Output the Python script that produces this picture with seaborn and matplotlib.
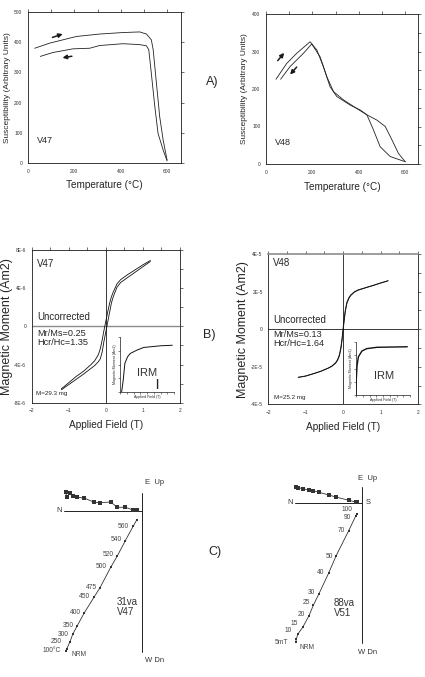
import numpy as np
import pandas as pd
import matplotlib
matplotlib.use('Agg')
import matplotlib.pyplot as plt
import seaborn as sns

# ---------------- data ----------------
# A) susceptibility vs temperature, V47
v47_heat_T = [29, 94, 209, 309, 410, 482, 511, 532, 540, 554, 568, 583, 597, 600]
v47_heat_k = [380, 397, 419, 427, 432, 434, 427, 408, 375, 264, 154, 76, 21, 10]
v47_cool_T = [53, 108, 194, 266, 309, 410, 482, 511, 521, 532, 547, 561, 583, 600]
v47_cool_k = [353, 366, 378, 380, 389, 395, 392, 388, 375, 297, 187, 98, 43, 7]
v47_arrow_up = [(94, 413), (161, 430)]
v47_arrow_down = [(201, 355), (137, 347)]

# A) susceptibility vs temperature, V48
v48_heat_T = [43, 89, 132, 190, 219, 247, 276, 305, 363, 406, 435, 463, 492, 535, 600]
v48_heat_k = [226, 268, 295, 326, 304, 260, 206, 180, 157, 144, 131, 91, 46, 20, 6]
v48_cool_T = [63, 104, 161, 197, 233, 262, 291, 334, 391, 435, 478, 514, 543, 571, 600]
v48_cool_k = [226, 260, 295, 320, 286, 233, 193, 171, 148, 131, 117, 100, 64, 28, 6]
v48_arrow_up = [(43, 270), (86, 302)]
v48_arrow_down = [(140, 264), (96, 233)]

# B) hysteresis loops (field in T)
field = [-1.2, -1.0, -0.8, -0.6, -0.4, -0.3, -0.2, -0.15, -0.1, -0.05, 0,
         0.05, 0.1, 0.15, 0.2, 0.3, 0.4, 0.6, 0.8, 1.0, 1.2]
v47_desc = [-6.55, -5.9, -5.25, -4.7, -4.0, -3.6, -2.95, -2.35, -1.45, -0.4, 0.55,
            1.5, 2.4, 3.1, 3.6, 4.45, 4.9, 5.45, 5.95, 6.45, 6.9]       # x1e-6 Am2
v47_asc = [-6.65, -6.1, -5.55, -5.0, -4.4, -4.1, -3.7, -3.4, -2.7, -1.55, -0.55,
           0.45, 1.45, 2.45, 3.1, 4.1, 4.6, 5.15, 5.7, 6.25, 6.8]
field48 = [-1.2, -1.0, -0.8, -0.6, -0.4, -0.3, -0.2, -0.15, -0.1, -0.06, -0.03, 0,
           0.03, 0.06, 0.1, 0.15, 0.2, 0.3, 0.4, 0.6, 0.8, 1.0, 1.2]
v48_desc = [-2.56, -2.49, -2.37, -2.24, -2.07, -1.96, -1.78, -1.62, -1.36, -0.95, -0.48, 0.06,
            0.62, 1.05, 1.44, 1.67, 1.82, 1.99, 2.09, 2.21, 2.33, 2.46, 2.58]   # x1e-5 Am2
v48_asc = [-2.57, -2.5, -2.38, -2.25, -2.08, -1.98, -1.81, -1.67, -1.43, -1.05, -0.62, -0.06,
           0.48, 0.95, 1.36, 1.62, 1.78, 1.97, 2.07, 2.2, 2.32, 2.45, 2.57]

# IRM insets (normalised)
irm47_field = [0.06, 0.12, 0.18, 0.28, 0.38, 0.62, 0.88, 1.5, 1.94]
irm47_mom = [0, 0.22, 0.52, 0.64, 0.70, 0.76, 0.81, 0.84, 0.85]
irm48_field = [0, 0.012, 0.04, 0.088, 0.22, 0.4, 0.78, 1.9]
irm48_mom = [0, 0.31, 0.56, 0.72, 0.83, 0.875, 0.9, 0.91]

# C) Zijderveld diagrams
steps47 = ['NRM', '100°C', '250', '300', '350', '400', '450', '475', '500', '520', '540', '560', '']
north47 = [-7.6, -7.5, -7.17, -6.9, -6.44, -5.77, -4.74, -4.17, -3.1, -2.44, -1.64, -0.84, -0.5]
east47 = [1.87, 1.43, 1.77, 1.5, 1.37, 1.3, 0.87, 0.83, 0.9, 0.37, 0.37, 0.1, 0.07]
down47 = [13.97, 13.8, 13.07, 12.33, 11.47, 10.23, 8.57, 7.67, 5.63, 4.5, 2.97, 1.5, 0.9]

steps51 = ['NRM', '5mT', '10', '15', '20', '25', '30', '40', '50', '70', '90', '100']
north51 = [-6.6, -6.54, -6.4, -5.9, -5.27, -4.84, -4.27, -3.3, -2.57, -1.3, -0.6, -0.5]
east51 = [1.53, 1.53, 1.5, 1.42, 1.24, 1.2, 1.04, 0.77, 0.57, 0.24, 0.07, 0.04]
down51 = [13.96, 13.66, 13.16, 12.46, 11.3, 10.26, 9.1, 7.03, 5.33, 2.8, 1.33, 1.13]

# ---------------- style ----------------
sns.set_theme(style='white')
plt.rcParams['font.family'] = ['Liberation Sans', 'DejaVu Sans']

W, H = 425, 677
fig = plt.figure(figsize=(W / 100, H / 100), dpi=100)
fig.patch.set_facecolor('white')


def box(l, t, r, b):
    return fig.add_axes([l / W, 1 - b / H, (r - l) / W, (b - t) / H])


def ftext(x, y, s, **kw):
    fig.text(x / W, 1 - y / H, s, **kw)


def frame(ax, size=3.5):
    for sp in ax.spines.values():
        sp.set_visible(True)
        sp.set_color('k')
        sp.set_linewidth(0.6)
    ax.tick_params(which='both', direction='out', top=True, right=True,
                   labeltop=False, labelright=False, labelsize=size, pad=1.5,
                   colors='#333', width=0.5)
    ax.tick_params(which='major', length=2.5)
    ax.tick_params(which='minor', length=2)
    ax.set_facecolor('none')


def line(ax, x, y, **kw):
    sns.lineplot(x=x, y=y, ax=ax, sort=False, estimator=None, legend=False, **kw)


def arrow(ax, pts):
    ax.annotate('', xy=pts[1], xytext=pts[0],
                arrowprops=dict(arrowstyle='-|>', color='k', lw=1.1, mutation_scale=6))


# ---------------- A) ----------------
axA1 = box(28, 12, 181, 163)
line(axA1, v47_heat_T, v47_heat_k, color='#222', lw=0.6)
line(axA1, v47_cool_T, v47_cool_k, color='#222', lw=0.6)
arrow(axA1, v47_arrow_up)
arrow(axA1, v47_arrow_down)
axA1.set_xlim(0, 660)
axA1.set_ylim(0, 500)
axA1.set_xticks([0, 200, 400, 600])
axA1.set_xticks([100, 300, 500], minor=True)
axA1.set_yticks(range(0, 501, 100))
frame(axA1)
axA1.text(40, 67, 'V47', fontsize=6.5)
axA1.set_xlabel('Temperature (°C)', fontsize=7.2, labelpad=5)
axA1.set_ylabel('Susceptibility (Arbitrary Units)', fontsize=6.0, labelpad=2.5)

axA2 = box(266, 14, 418, 164)
line(axA2, v48_heat_T, v48_heat_k, color='#222', lw=0.6)
line(axA2, v48_cool_T, v48_cool_k, color='#222', lw=0.6)
arrow(axA2, v48_arrow_up)
arrow(axA2, v48_arrow_down)
axA2.set_xlim(0, 655)
axA2.set_ylim(0, 400)
axA2.set_xticks([0, 200, 400, 600])
axA2.set_xticks([100, 300, 500], minor=True)
axA2.set_yticks(range(0, 401, 100))
axA2.set_yticks(range(50, 400, 100), minor=True)
frame(axA2)
axA2.text(39, 51, 'V48', fontsize=6.5)
axA2.set_xlabel('Temperature (°C)', fontsize=7.2, labelpad=5)
axA2.set_ylabel('Susceptibility (Arbitrary Units)', fontsize=6.0, labelpad=3)

ftext(206, 82, 'A)', fontsize=9, va='center')

# ---------------- B) ----------------
axB1 = box(31.7, 250, 180, 402.7)
axB1.axhline(0, color='0.55', lw=1.0)
axB1.axvline(0, color='k', lw=0.6)
line(axB1, field[::-1], [v * 1e-6 for v in v47_desc[::-1]], color='#111', lw=0.6)
line(axB1, field, [v * 1e-6 for v in v47_asc], color='#111', lw=0.6)
axB1.set_xlim(-2, 2)
axB1.set_ylim(-8e-6, 8e-6)
axB1.set_xticks([-2, -1, 0, 1, 2])
axB1.set_xticks([-1.5, -0.5, 0.5, 1.5], minor=True)
axB1.set_yticks([-8e-6, -4e-6, 0, 4e-6, 8e-6], ['-8E-6', '-4E-6', '0', '4E-6', '8E-6'])
axB1.set_yticks([-6e-6, -2e-6, 2e-6, 6e-6], minor=True)
frame(axB1)
axB1.set_xlabel('Applied Field (T)', fontsize=7.3, labelpad=5)
axB1.set_ylabel('Magnetic Moment (Am2)', fontsize=9, labelpad=1)
ftext(37, 264, 'V47', fontsize=7, va='center')
ftext(37, 317, 'Uncorrected', fontsize=7, va='center')
ftext(37, 338, 'Mr/Ms=0.25\nHcr/Hc=1.35', fontsize=6.6, va='center', linespacing=0.92)
ftext(36, 394, 'M=29.3 mg', fontsize=4.5, va='center')

axB2 = box(268.3, 254, 418, 404.3)
axB2.axhline(0, color='k', lw=0.6)
axB2.axvline(0, color='k', lw=0.6)
line(axB2, field48[::-1], [v * 1e-5 for v in v48_desc[::-1]], color='#111', lw=0.6)
line(axB2, field48, [v * 1e-5 for v in v48_asc], color='#111', lw=0.6)
axB2.set_xlim(-2, 2)
axB2.set_ylim(-4e-5, 4e-5)
axB2.set_xticks([-2, -1, 0, 1, 2])
axB2.set_xticks([-1.5, -0.5, 0.5, 1.5], minor=True)
axB2.set_yticks([-4e-5, -2e-5, 0, 2e-5, 4e-5], ['-4E-5', '-2E-5', '0', '2E-5', '4E-5'])
axB2.set_yticks([-3e-5, -1e-5, 1e-5, 3e-5], minor=True)
frame(axB2)
axB2.spines['top'].set_color('0.55')
axB2.spines['top'].set_linewidth(1.2)
axB2.set_xlabel('Applied Field (T)', fontsize=7.3, labelpad=5)
axB2.set_ylabel('Magnetic Moment (Am2)', fontsize=9, labelpad=1.5)
ftext(273, 263, 'V48', fontsize=7, va='center')
ftext(273, 320, 'Uncorrected', fontsize=7, va='center')
ftext(273, 339, 'Mr/Ms=0.13\nHcr/Hc=1.64', fontsize=6.6, va='center', linespacing=0.92)
ftext(274, 397, 'M=25.2 mg', fontsize=4.5, va='center')

ftext(203, 335, 'B)', fontsize=9, va='center')


def irm_inset(ax, x, y, lw):
    line(ax, x, y, color='#111', lw=lw)
    ax.set_xlim(0, 2)
    ax.set_ylim(0, 1)
    ax.set_facecolor('none')
    for s in ['top', 'right']:
        ax.spines[s].set_visible(False)
    for s in ['left', 'bottom']:
        ax.spines[s].set_color('k')
        ax.spines[s].set_linewidth(0.5)
    ax.set_xticks(np.arange(0, 2.01, 0.25))
    ax.set_yticks([0, 0.25, 0.5, 0.75, 1.0])
    ax.tick_params(direction='out', length=1.5, width=0.4, labelbottom=False,
                   labelleft=False, left=True, bottom=True)
    ax.set_xlabel('Applied Field (T)', fontsize=2.6, labelpad=1)
    ax.set_ylabel('Magnetic Moment (Am2)', fontsize=2.6, labelpad=1)


axI1 = box(120, 337, 174, 392)
irm_inset(axI1, irm47_field, irm47_mom, 0.7)
ftext(137, 373, 'IRM', fontsize=8, va='center', color='#333')
ftext(155, 384, '|', fontsize=8, va='center', fontweight='bold')

axI2 = box(356, 342, 410, 395)
irm_inset(axI2, irm48_field, irm48_mom, 1.0)
ftext(374, 376, 'IRM', fontsize=8, va='center', color='#333')

# ---------------- C) ----------------


def zijderveld(ax, north, east, down, steps, hline, vline, offsets):
    ax.plot([hline, 0], [0, 0], color='#222', lw=0.7)
    ax.plot([0, 0], vline, color='#222', lw=0.7)
    line(ax, north, east, color='#333', lw=0.6, marker='s', markersize=2.4,
         markeredgewidth=0)
    dn = [-d for d in down]
    line(ax, north, dn, color='#333', lw=0.6, marker='s', markersize=1.8,
         markeredgewidth=0)
    for n, d, s, off in zip(north, dn, steps, offsets):
        if not s:
            continue
        ha = 'left' if off[0] > 0 else 'right'
        ax.annotate(s, (n, d), xytext=off, textcoords='offset points',
                    ha=ha, va='center', fontsize=4.8, color='#444')
    ax.axis('off')


axC1 = box(40, 475, 160, 670)
offs47 = [(4.5, -2.6), (-4, -1.2), (-5.7, 0), (-3.2, 0), (-2.2, 0.5), (-2.2, 0.5),
          (-3, 0.5), (-2.4, 0.5), (-2.9, 0.5), (-2.4, 1.2), (-2.6, 1.2), (-3, 0), (0, 0)]
zijderveld(axC1, north47, east47, down47, steps47, -7.77, (1.83, -14.07), offs47)
axC1.set_xlim(-10.17, 1.83)
axC1.set_ylim(-15.9, 3.6)
ftext(62, 511, 'N', fontsize=5.5, ha='right', va='center', color='#333')
ftext(145, 483, 'E  Up', fontsize=5.5, va='center', color='#333')
ftext(145, 661, 'W Dn', fontsize=5.5, va='center', color='#333')
ftext(117, 607, '31va\nV47', fontsize=7, va='center', color='#333', linespacing=1.0)

axC2 = box(260, 470, 380, 665)
offs51 = [(3, -3.6), (-6, -2.2), (-4, 2.4), (-3.4, 2.9), (-3, 1.2), (-2.4, 2.2),
          (-3, 0.7), (-3.4, 0), (-2.2, 0), (-2.9, 0), (-3.4, -1.4), (-3.4, 3.2)]
zijderveld(axC2, north51, east51, down51, steps51, -6.67, (1.57, -14.03), offs51)
axC2.set_xlim(-10.17, 1.83)
axC2.set_ylim(-16.23, 3.27)
ftext(293, 502, 'N', fontsize=5.5, ha='right', va='center', color='#333')
ftext(366, 502, 'S', fontsize=5.5, va='center', color='#333')
ftext(358, 478, 'E  Up', fontsize=5.5, va='center', color='#333')
ftext(358, 653, 'W Dn', fontsize=5.5, va='center', color='#333')
ftext(334, 608, '88va\nV51', fontsize=7, va='center', color='#333', linespacing=1.0)

ftext(208, 552, 'C)', fontsize=9, va='center')

fig.savefig('out.png', dpi=100)
